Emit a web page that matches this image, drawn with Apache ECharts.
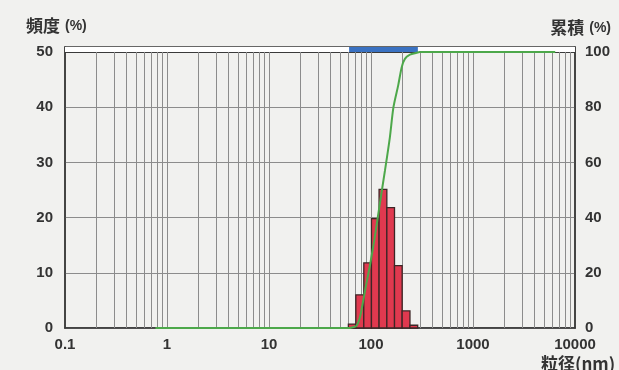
<!DOCTYPE html>
<html>
<head>
<meta charset="utf-8">
<script src="https://cdn.jsdelivr.net/npm/echarts@6/dist/echarts.min.js"></script>
<style>
html,body{margin:0;padding:0;background:#f1f1ef;}
#chart{width:619px;height:370px;}
</style>
</head>
<body>
<div id="chart"></div>
<script>
// ---- data ----
const xTickLabels = ['0.1', '1', '10', '100', '1000', '10000'];
const leftTicks = [0, 10, 20, 30, 40, 50];
const rightTicks = [0, 20, 40, 60, 80, 100];
// vertical grid positions (nm)
const gridValues = [0.2, 0.3, 0.4, 0.5, 0.6, 0.7, 0.8, 0.9, 1,
  2, 3, 4, 5, 6, 7, 8, 9, 10,
  20, 30, 40, 50, 60, 70, 80, 90, 100,
  200, 300, 400, 500, 600, 700, 800, 900, 1000,
  2000, 3000, 4000, 5000, 6000, 7000, 8000, 9000];
// histogram bins (nm) and frequency (%)
const binEdges = [60, 71, 85, 101, 120, 143, 170, 202, 241, 287];
const frequency = [0.7, 6.0, 11.8, 19.8, 25.1, 21.8, 11.3, 3.1, 0.5];
// cumulative curve (nm, %)
const cumSize = [0.77, 60, 65, 72, 78, 84, 90, 98, 109, 122, 137, 153, 166, 185, 200, 215, 241, 280, 300, 6400];
const cumValue = [0, 0, 0.2, 0.8, 4, 10, 16, 23, 33, 45, 57, 69, 80, 88, 94.5, 97.5, 99, 99.7, 100, 100];
// distribution range band (nm)
const rangeBand = [61, 288];

// ---- build ----
const barData = frequency.map((v, i) => [binEdges[i], binEdges[i + 1], v]);
const cumData = cumSize.map((s, i) => [s, cumValue[i]]);

const FONT = 'Liberation Sans';
const GRIDC = '#8c8c8c';
const FRAME = '#3a3a3a';
const chart = echarts.init(document.getElementById('chart'), null, {renderer: 'canvas'});
chart.setOption({
  backgroundColor: '#f1f1ef',
  animation: false,
  grid: {left: 65, right: 44, top: 47, bottom: 42, show: true,
    borderColor: FRAME, borderWidth: 1.5, backgroundColor: 'transparent'},
  xAxis: {
    type: 'log', logBase: 10, min: 0.1, max: 10000,
    axisLine: {show: true, lineStyle: {color: FRAME, width: 1.5}},
    axisTick: {show: false},
    splitLine: {show: false},
    axisLabel: {
      margin: 9, color: '#333', fontSize: 15, fontFamily: FONT, fontWeight: 'bold',
      formatter: function (v) {
        const e = Math.round(Math.log10(v)) + 1;
        return xTickLabels[e] !== undefined ? xTickLabels[e] : '';
      }
    }
  },
  yAxis: [{
    type: 'value', min: 0, max: 50.9, interval: 10,
    position: 'left',
    axisLine: {show: true, lineStyle: {color: FRAME, width: 1.5}},
    axisTick: {show: false},
    splitLine: {show: true, lineStyle: {color: [GRIDC, GRIDC, GRIDC, GRIDC, GRIDC, FRAME, FRAME], width: 1}},
    axisLabel: {
      margin: 12, color: '#333', fontSize: 15, fontFamily: FONT, fontWeight: 'bold',
      formatter: function (v) { return leftTicks.indexOf(v) >= 0 ? String(v) : ''; }
    }
  }, {
    type: 'value', min: 0, max: 101.8, interval: 20,
    position: 'right',
    axisLine: {show: true, lineStyle: {color: FRAME, width: 1.5}},
    axisTick: {show: false},
    splitLine: {show: false},
    axisLabel: {
      margin: 10, color: '#333', fontSize: 15, fontFamily: FONT, fontWeight: 'bold',
      formatter: function (v) { return rightTicks.indexOf(v) >= 0 ? String(v) : ''; }
    }
  }],
  title: [{
    text: '{a|頻度} {b|(%)}', left: 21, top: 12,
    textStyle: {rich: {
      a: {fontSize: 17, fontWeight: 'bold', color: '#333', fontFamily: 'Noto Sans CJK JP'},
      b: {fontSize: 14, fontWeight: 'bold', color: '#333', fontFamily: FONT}
    }}
  }, {
    text: '{a|累積} {b|(%)}', right: 3, top: 14,
    textStyle: {rich: {
      a: {fontSize: 17, fontWeight: 'bold', color: '#333', fontFamily: 'Noto Sans CJK JP'},
      b: {fontSize: 14, fontWeight: 'bold', color: '#333', fontFamily: FONT}
    }}
  }],
  graphic: [{
    type: 'text', left: 541, top: 355,
    style: {text: '粒径(nm)', fontSize: 17, fontWeight: 'bold', fill: '#333', fontFamily: 'Noto Sans CJK JP'}
  }],
  series: [{
    // top strip (white) and range band (blue)
    type: 'custom', silent: true, z: 1,
    data: [[0.1, 10000], [rangeBand[0], rangeBand[1]]],
    renderItem: function (params, api) {
      const p0 = api.coord([api.value(0), 50.9]);
      const p1 = api.coord([api.value(1), 50]);
      return {type: 'rect', shape: {x: p0[0], y: p0[1], width: p1[0] - p0[0], height: p1[1] - p0[1]},
        style: {fill: params.dataIndex === 0 ? '#ffffff' : '#3a72c2'}};
    }
  }, {
    // vertical log grid lines
    type: 'custom', silent: true, z: 1,
    data: gridValues.map(v => [v]),
    renderItem: function (params, api) {
      const b = api.coord([api.value(0), 0]);
      const t = api.coord([api.value(0), 50]);
      return {type: 'line', shape: {x1: Math.round(b[0]) + 0.5, y1: b[1], x2: Math.round(b[0]) + 0.5, y2: t[1]},
        style: {stroke: GRIDC, lineWidth: 1}};
    }
  }, {
    // histogram bars
    type: 'custom', z: 3,
    data: barData,
    encode: {x: [0, 1], y: 2},
    renderItem: function (params, api) {
      const p0 = api.coord([api.value(0), api.value(2)]);
      const p1 = api.coord([api.value(1), 0]);
      return {type: 'rect', shape: {x: p0[0], y: p0[1], width: p1[0] - p0[0], height: p1[1] - p0[1]},
        style: {fill: '#e0394f', stroke: '#3d2626', lineWidth: 1.3}};
    }
  }, {
    // cumulative curve
    type: 'line', yAxisIndex: 1, z: 5,
    data: cumData, showSymbol: false, smooth: 0.25,
    lineStyle: {color: '#4da84a', width: 2},
    clip: false
  }]
});
</script>
</body>
</html>
